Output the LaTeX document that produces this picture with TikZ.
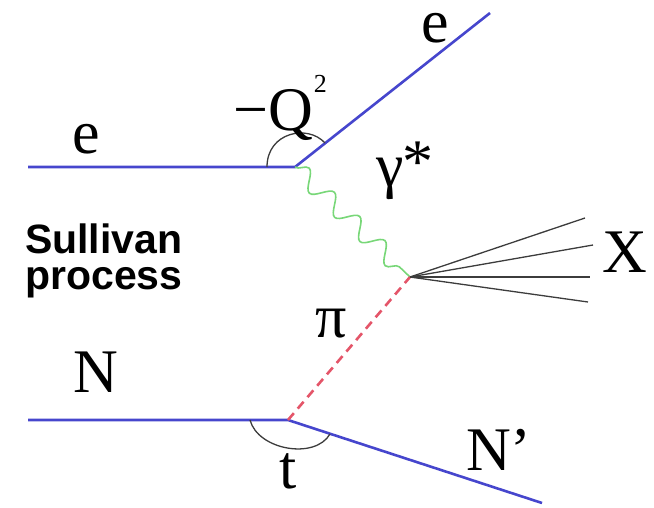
\documentclass[tikz,border=0pt]{standalone}
\usepackage{fontspec}
\setmainfont{Liberation Serif}
\newfontfamily\sulfont{Liberation Sans}
\usetikzlibrary{decorations.pathmorphing}
\definecolor{fermion}{RGB}{70,70,205}
\definecolor{photon}{RGB}{120,215,120}
\definecolor{pion}{RGB}{228,85,105}
\definecolor{jet}{RGB}{60,60,60}
\tikzset{
  fermionline/.style={draw=fermion, line width=2.6pt},
  photonline/.style={draw=photon, line width=1.6pt, decorate,
     decoration={snake, segment length=35pt, amplitude=9pt, pre length=0pt, post length=2pt}},
  pionline/.style={draw=pion, line width=2.6pt, dash pattern=on 9pt off 6pt},
  jetline/.style={draw=jet, line width=1.3pt},
  anglearc/.style={draw=jet, line width=1.3pt},
  lbl/.style={inner sep=0pt, anchor=base, font=\fontsize{62}{62}\selectfont},
  sul/.style={inner sep=0pt, anchor=base west, font=\sulfont\bfseries\fontsize{41}{41}\selectfont}
}
\begin{document}
\begin{tikzpicture}[x=1pt,y=-1pt]
\useasboundingbox (0,0) rectangle (654,507);
% vertices
\coordinate (ein) at (28,167);
\coordinate (v1) at (295,167);
\coordinate (eout) at (490,13);
\coordinate (v2) at (410,277);
\coordinate (Nin) at (28,420);
\coordinate (v3) at (288,420);
\coordinate (Nout) at (542,503);
\coordinate (j1) at (585,218);
\coordinate (j2) at (593,245);
\coordinate (j3) at (590,277);
\coordinate (j4) at (588,302);
% lines
\draw[fermionline] (ein) -- (v1) -- (eout);
\draw[fermionline] (Nin) -- (v3) -- (Nout);
\draw[photonline] (v1) -- (v2);
\draw[pionline] (v3) -- (v2);
\draw[jetline] (v2) -- (j1);
\draw[jetline] (v2) -- (j2);
\draw[jetline] (v2) -- (j3);
\draw[jetline] (v2) -- (j4);
% angle arcs
\draw[anglearc] (267,167) .. controls (267,132) and (308,124) .. (325,143);
\draw[anglearc] (250,420) .. controls (258,450) and (315,460) .. (330,434);
% labels
\node[lbl] (le1) at (86,153) {e};
\node[lbl, anchor=base west] (lq) at (233,130) {−Q\hspace{1pt}\raisebox{38pt}{\fontsize{26}{26}\selectfont 2}};
\node[lbl, text height=30pt, text depth=1pt] (le2) at (435,42) {e};
\node[lbl, anchor=base west] (lg) at (376,186) {γ\hspace{-1pt}\raisebox{4pt}{*}};
\node[lbl] (lpi) at (331,337) {π};
\node[lbl] (lN) at (96,392) {N};
\node[lbl] (lt) at (288,488) {t};
\node[lbl, anchor=base west] (lNp) at (466,470) {N’};
\node[lbl] (lX) at (625,272) {X};
\node[sul, text depth=0pt] (s1) at (25,253) {Sullivan};
\node[sul, text height=22pt] (s2) at (25,289) {process};
\end{tikzpicture}
\end{document}
